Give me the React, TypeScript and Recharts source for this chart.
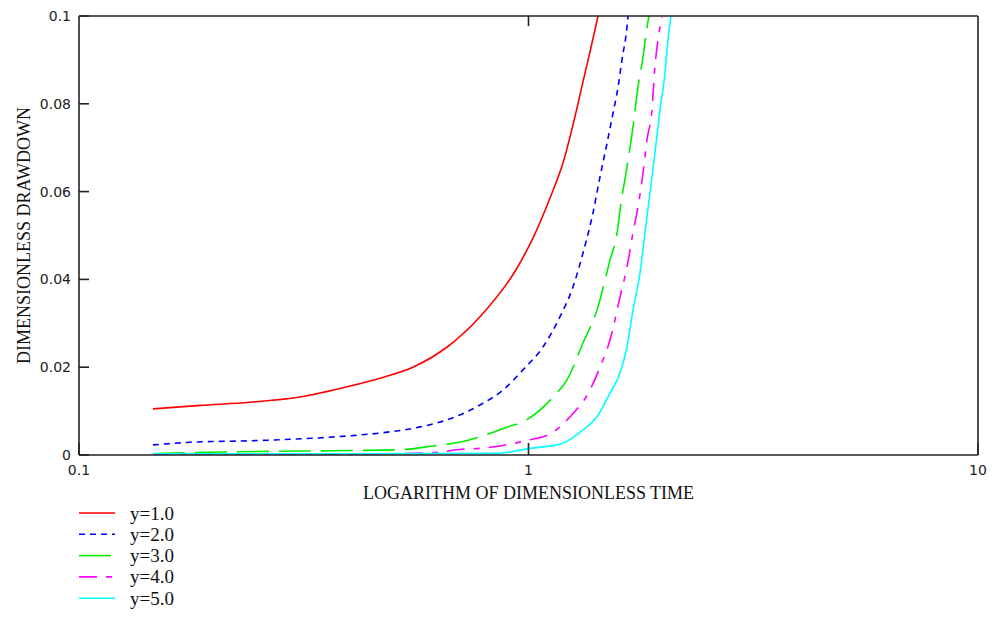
import React from 'react';
import { LineChart, Line, XAxis, YAxis, Label } from 'recharts';

// ---- data ----
const xTicks = [0.1, 1, 10];
const yTicks = [0, 0.02, 0.04, 0.06, 0.08, 0.1];

const seriesNames = ['y=1.0', 'y=2.0', 'y=3.0', 'y=4.0', 'y=5.0'];

const tY1 = [0.146, 0.186, 0.240, 0.310, 0.401, 0.467, 0.553, 0.659, 0.780, 0.943, 1.023, 1.116, 1.193, 1.256, 1.322, 1.370, 1.428];
const sY1 = [0.0105, 0.0113, 0.012, 0.0132, 0.0157, 0.0175, 0.020, 0.0246, 0.0315, 0.0426, 0.0494, 0.0585, 0.0665, 0.0752, 0.085, 0.0918, 0.100];

const tY2 = [0.146, 0.177, 0.251, 0.403, 0.467, 0.574, 0.659, 0.780, 0.878, 0.972, 1.077, 1.175, 1.256, 1.322, 1.391, 1.442, 1.495, 1.542, 1.582, 1.614, 1.656, 1.665];
const sY2 = [0.0023, 0.0029, 0.0033, 0.0044, 0.0050, 0.0064, 0.008, 0.0114, 0.0148, 0.0194, 0.0246, 0.0315, 0.0383, 0.046, 0.0551, 0.0633, 0.071, 0.0779, 0.0838, 0.090, 0.0975, 0.100];

const tY3 = [0.146, 0.211, 0.310, 0.518, 0.607, 0.711, 0.784, 0.900, 0.982, 1.134, 1.218, 1.322, 1.420, 1.518, 1.574, 1.598, 1.656, 1.708, 1.752, 1.798, 1.835, 1.854];
const sY3 = [0.0003, 0.0007, 0.0009, 0.0012, 0.002, 0.003, 0.0042, 0.0064, 0.0078, 0.0132, 0.0171, 0.0255, 0.033, 0.0444, 0.0506, 0.0558, 0.0656, 0.0747, 0.0838, 0.0907, 0.0975, 0.100];

const tY4 = [0.146, 0.400, 0.607, 0.711, 0.800, 0.900, 0.992, 1.134, 1.237, 1.370, 1.442, 1.518, 1.598, 1.656, 1.708, 1.752, 1.798, 1.835, 1.882, 1.911, 1.941, 1.982];
const sY4 = [0.0002, 0.0002, 0.0005, 0.0013, 0.0016, 0.0024, 0.0033, 0.0052, 0.0087, 0.0148, 0.020, 0.0262, 0.036, 0.0428, 0.0506, 0.0565, 0.0642, 0.0718, 0.0786, 0.0884, 0.0945, 0.0998];

const tY5 = [0.146, 0.400, 0.851, 1.008, 1.193, 1.322, 1.420, 1.518, 1.598, 1.656, 1.708, 1.770, 1.816, 1.863, 1.911, 1.961, 2.012, 2.043, 2.075];
const sY5 = [0.0003, 0.0003, 0.0004, 0.0015, 0.0027, 0.0057, 0.0087, 0.0141, 0.0187, 0.0246, 0.033, 0.0414, 0.0506, 0.0597, 0.0688, 0.0786, 0.087, 0.0945, 0.100];

const zip = (t: number[], s: number[]) => t.map((v, i) => ({ t: v, s: s[i] }));

const series = [
  { name: seriesNames[0], data: zip(tY1, sY1), color: '#ff0000', dash: undefined as string | undefined },
  { name: seriesNames[1], data: zip(tY2, sY2), color: '#0000ff', dash: '6 5' },
  { name: seriesNames[2], data: zip(tY3, sY3), color: '#00ee00', dash: '32 10' },
  { name: seriesNames[3], data: zip(tY4, sY4), color: '#ff00ff', dash: '18 9 6 9' },
  { name: seriesNames[4], data: zip(tY5, sY5), color: '#00ffff', dash: undefined as string | undefined },
];

const W = 991;
const H = 609;
const AXIS = '#222';
const TICK_FONT = '"DejaVu Sans", sans-serif';
const SERIF = '"Liberation Serif", "Times New Roman", serif';

const YTick = (props: any) => {
  const { x, y, payload } = props;
  return (
    <g>
      <line x1={x} y1={y} x2={x + 10} y2={y} stroke={AXIS} strokeWidth={1.6} />
      <text x={x - 8} y={y} dy="0.35em" textAnchor="end" fontFamily={TICK_FONT} fontSize={14} fill="#222">
        {String(payload.value)}
      </text>
    </g>
  );
};

const XTick = (props: any) => {
  const { x, y, payload } = props;
  return (
    <g>
      <line x1={x} y1={y} x2={x} y2={y - 12} stroke={AXIS} strokeWidth={1.6} />
      <text x={x} y={y + 15} dy="0.35em" textAnchor="middle" fontFamily={TICK_FONT} fontSize={14} fill="#222">
        {String(payload.value)}
      </text>
    </g>
  );
};

const TopTick = (props: any) => {
  const { x, y } = props;
  return <line x1={x} y1={y} x2={x} y2={y + 10} stroke={AXIS} strokeWidth={1.6} />;
};

const YLabel = (props: any) => {
  const vb = props.viewBox || { x: 0, y: 8, width: 71, height: 439 };
  const cx = vb.x + 16;
  const cy = vb.y + vb.height / 2;
  return (
    <text x={cx} y={cy} transform={`rotate(-90, ${cx}, ${cy})`} textAnchor="middle" dominantBaseline="central" fontFamily={SERIF} fontSize={18} fill="#111">
      DIMENSIONLESS DRAWDOWN
    </text>
  );
};

const XLabel = (props: any) => {
  const vb = props.viewBox || { x: 71, y: 447, width: 899, height: 30 };
  const cx = vb.x + vb.width / 2;
  const cy = vb.y + 38;
  return (
    <text x={cx} y={cy} textAnchor="middle" dominantBaseline="central" fontFamily={SERIF} fontSize={18} fill="#111">
      LOGARITHM OF DIMENSIONLESS TIME
    </text>
  );
};

const LegendBox = () => (
  <svg width={200} height={110} style={{ position: 'absolute', left: 0, top: 494 }}>
    {series.map((s, i) => {
      const cy = 11 + i * 21.3;
      return (
        <g key={s.name}>
          <line x1={71} y1={cy} x2={107} y2={cy} stroke={s.color} strokeWidth={1.6} strokeDasharray={s.dash} />
          <text x={122} y={cy} dominantBaseline="central" fontFamily={SERIF} fontSize={19} fill="#111">
            {s.name}
          </text>
        </g>
      );
    })}
  </svg>
);

export default function App() {
  return (
    <div style={{ position: 'relative', width: W, height: H, background: '#fff' }}>
      <LineChart width={W} height={H} margin={{ top: 0, right: 0, bottom: 132, left: 0 }}>
        <XAxis
          xAxisId="bottom"
          dataKey="t"
          type="number"
          scale="log"
          domain={[0.1, 10]}
          allowDataOverflow
          ticks={xTicks}
          height={30}
          tickSize={0}
          tickMargin={0}
          tickLine={false}
          axisLine={{ stroke: AXIS, strokeWidth: 1.6 }}
          tick={<XTick />}
          interval={0}
        >
          <Label content={<XLabel />} />
        </XAxis>
        <XAxis
          xAxisId="top"
          orientation="top"
          dataKey="t"
          type="number"
          scale="log"
          domain={[0.1, 10]}
          allowDataOverflow
          ticks={[1]}
          height={8}
          tickSize={0}
          tickMargin={0}
          tickLine={false}
          axisLine={{ stroke: AXIS, strokeWidth: 1.6 }}
          tick={<TopTick />}
          interval={0}
        />
        <YAxis
          yAxisId="left"
          type="number"
          domain={[0, 0.1]}
          allowDataOverflow
          ticks={yTicks}
          width={71}
          tickSize={0}
          tickMargin={0}
          tickLine={false}
          axisLine={{ stroke: AXIS, strokeWidth: 1.6 }}
          tick={<YTick />}
          interval={0}
        >
          <Label content={<YLabel />} />
        </YAxis>
        <YAxis
          yAxisId="right"
          orientation="right"
          type="number"
          domain={[0, 0.1]}
          width={21}
          tick={false}
          tickLine={false}
          axisLine={{ stroke: AXIS, strokeWidth: 1.6 }}
        />
        {series.map((s) => (
          <Line
            key={s.name}
            xAxisId="bottom"
            yAxisId="left"
            data={s.data}
            dataKey="s"
            name={s.name}
            type="monotone"
            stroke={s.color}
            strokeWidth={1.6}
            strokeDasharray={s.dash}
            dot={false}
            activeDot={false}
            isAnimationActive={false}
          />
        ))}
      </LineChart>
      <LegendBox />
    </div>
  );
}
